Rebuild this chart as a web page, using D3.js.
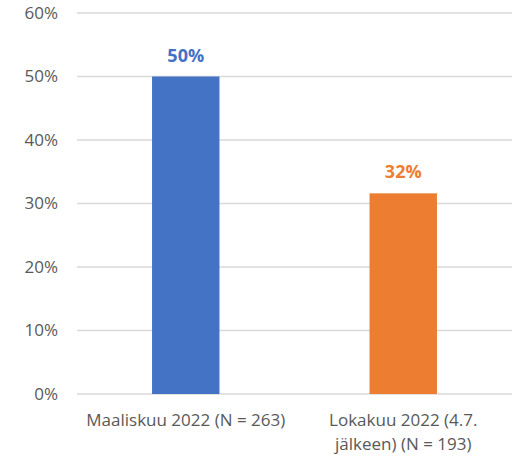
<!DOCTYPE html>
<html lang="fi">
<head>
  <meta charset="utf-8">
  <title>Osuus</title>
  <script src="https://d3js.org/d3.v7.min.js"></script>
  <style>
    body { margin: 0; background: #fff; }
    #chart text { font-family: "Open Sans", sans-serif; }
  </style>
</head>
<body>
  <div id="chart"></div>
  <script>
    "use strict"

    // data
    var kategoriat = [
      ["Maaliskuu 2022 (N = 263)"],
      ["Lokakuu 2022 (4.7.", "jälkeen) (N = 193)"]
    ];
    var arvot = [0.50, 0.316];
    var nimikkeet = ["50%", "32%"];
    var varit = ["#4472C4", "#ED7D31"];
    var yTikit = [0, 0.1, 0.2, 0.3, 0.4, 0.5, 0.6];

    var leveys = 514, korkeus = 456;
    var margin = {top: 13, right: 2, bottom: 62, left: 77};
    var w = leveys - margin.left - margin.right,
        h = korkeus - margin.top - margin.bottom;

    var svg = d3.select('#chart').append('svg')
        .attr('width', leveys)
        .attr('height', korkeus);
    var g = svg.append('g')
        .attr('transform', 'translate(' + margin.left + ',' + margin.top + ')');

    var x = d3.scaleBand()
        .domain(d3.range(kategoriat.length))
        .range([0, w])
        .paddingInner(0.69)
        .paddingOuter(0.345);

    var y = d3.scaleLinear()
        .domain([0, 0.6])
        .range([h, 0]);

    // gridlines
    g.selectAll('.grid')
      .data(yTikit)
      .enter().append('line')
        .attr('x1', 0).attr('x2', w)
        .attr('y1', d => y(d)).attr('y2', d => y(d))
        .attr('stroke', '#d9d9d9')
        .attr('stroke-width', 1.3);

    // y akseli
    var yAks = g.append('g')
        .call(d3.axisLeft(y).tickValues(yTikit).tickFormat(d3.format('.0%')).tickSize(0).tickPadding(19));
    yAks.select('.domain').remove();
    yAks.selectAll('text')
        .attr('fill', '#595959')
        .style('font-size', '17px');

    // palkit
    g.selectAll('.palkki')
      .data(arvot)
      .enter().append('rect')
        .attr('x', (d, i) => x(i))
        .attr('width', x.bandwidth())
        .attr('y', d => y(d))
        .attr('height', d => h - y(d))
        .attr('fill', (d, i) => varit[i]);

    // arvot palkkien päällä
    g.selectAll('.arvo')
      .data(arvot)
      .enter().append('text')
        .attr('x', (d, i) => x(i) + x.bandwidth() / 2)
        .attr('y', d => y(d) - 15)
        .attr('text-anchor', 'middle')
        .attr('fill', (d, i) => varit[i])
        .style('font-size', '18px')
        .style('font-weight', 'bold')
        .text((d, i) => nimikkeet[i]);

    // x akselin nimikkeet
    var xl = g.selectAll('.kat')
      .data(kategoriat)
      .enter().append('text')
        .attr('x', (d, i) => x(i) + x.bandwidth() / 2)
        .attr('y', h + 32)
        .attr('text-anchor', 'middle')
        .attr('fill', '#595959')
        .style('font-size', '17px');
    xl.selectAll('tspan')
      .data(d => d)
      .enter().append('tspan')
        .attr('x', function() { return this.parentNode.getAttribute('x'); })
        .attr('dy', (d, i) => i === 0 ? 0 : 24)
        .text(d => d);
  </script>
</body>
</html>
